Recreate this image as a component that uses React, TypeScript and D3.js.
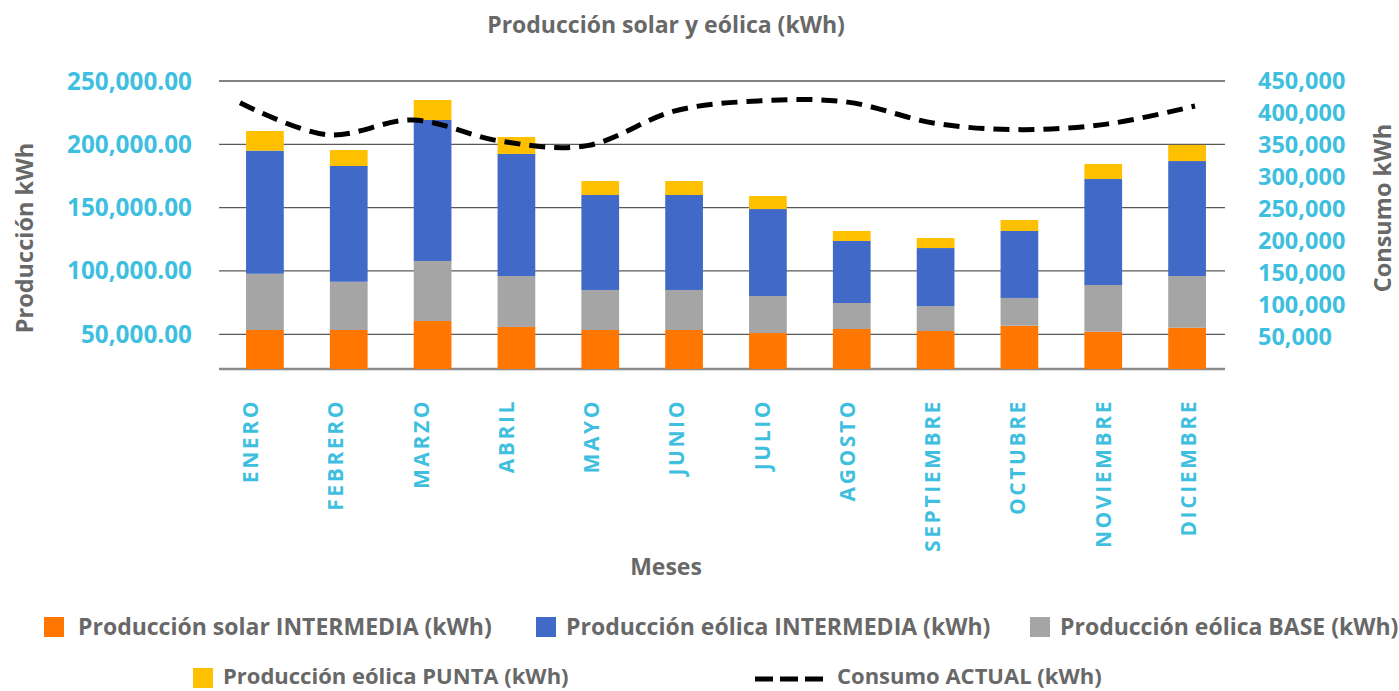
import React from "react";
import * as d3 from "d3";

const months = ["ENERO", "FEBRERO", "MARZO", "ABRIL", "MAYO", "JUNIO", "JULIO", "AGOSTO", "SEPTIEMBRE", "OCTUBRE", "NOVIEMBRE", "DICIEMBRE"];
const solarIntermedia = [53400, 53400, 60500, 55800, 53400, 53400, 51000, 54200, 52600, 56800, 52100, 55200];
const eolicaBase = [44400, 38100, 47400, 40200, 31600, 31600, 29200, 20500, 19700, 21900, 36800, 40800];
const eolicaIntermedia = [97200, 91400, 111300, 96400, 75000, 75000, 68700, 49000, 45800, 52900, 83700, 90800];
const eolicaPunta = [15500, 12600, 15800, 13400, 11000, 11000, 10300, 7900, 7900, 8600, 11900, 12700];
const consumoActual = [416000, 366000, 389000, 356000, 349000, 403000, 419000, 417000, 384000, 374000, 383000, 411000];
const leftTicks = [50000, 100000, 150000, 200000, 250000];
const rightTicks = [50000, 100000, 150000, 200000, 250000, 300000, 350000, 400000, 450000];

const COLORS: Record<string, string> = {
  solar: "#FF7700",
  intermedia: "#416AC8",
  base: "#A5A5A5",
  punta: "#FFC000",
};
const LABEL_BLUE = "#3FBFE0";
const GRAY_TEXT = "#686868";
const FONT = "'Open Sans', sans-serif";

export default function App() {
  const W = 1399, H = 691;
  const plotL = 219, plotR = 1225, plotT = 81, plotB = 369;

  const xBar = d3.scaleBand<string>().domain(months).range([223, 1229]).paddingInner(0.55).paddingOuter(0.275);
  const xLine = d3.scalePoint<string>().domain(months).range([240, 1195]);
  const xLabel = d3.scalePoint<string>().domain(months).range([258, 1196]);
  const yL = d3.scaleLinear().domain([22600, 250000]).range([plotB, plotT]).clamp(true);
  const yR = d3.scaleLinear().domain([0, 450000]).range([plotB, plotT]);

  const rows = months.map((m, i) => ({
    month: m,
    solar: solarIntermedia[i],
    base: eolicaBase[i],
    intermedia: eolicaIntermedia[i],
    punta: eolicaPunta[i],
  }));
  const keys = ["solar", "base", "intermedia", "punta"];
  const stacked = d3.stack<any>().keys(keys)(rows);

  const line = d3
    .line<number>()
    .x((_, i) => xLine(months[i]) as number)
    .y((d) => yR(d))
    .curve(d3.curveCatmullRom.alpha(0));

  const fmtL = d3.format(",.2f");
  const fmtR = d3.format(",");

  const legendRow1 = [
    { key: "solar", label: "Producción solar INTERMEDIA (kWh)", x: 44, tx: 78 },
    { key: "intermedia", label: "Producción eólica INTERMEDIA (kWh)", x: 536, tx: 566 },
    { key: "base", label: "Producción eólica BASE (kWh)", x: 1030, tx: 1060 },
  ];

  return (
    <svg width={W} height={H} style={{ position: "absolute", left: 0, top: 0, background: "#fff" }} fontFamily={FONT}>
      <text x={666} y={33} textAnchor="middle" fontSize={23} fontWeight={700} fill={GRAY_TEXT}>
        Producción solar y eólica (kWh)
      </text>

      {leftTicks.map((t) => (
        <line key={"g" + t} x1={plotL} x2={plotR} y1={yL(t)} y2={yL(t)} stroke="#5a5a5a" strokeWidth={1.3} />
      ))}
      <line x1={plotL} x2={plotR} y1={plotB} y2={plotB} stroke="#8a8a8a" strokeWidth={2.5} />

      {leftTicks.map((t) => (
        <text key={"l" + t} x={192} y={yL(t)} dy="0.35em" textAnchor="end" fontSize={24.3} fontWeight={700} fill={LABEL_BLUE}>
          {fmtL(t)}
        </text>
      ))}
      {rightTicks.map((t) => (
        <text key={"r" + t} x={1258} y={yR(t)} dy="0.35em" textAnchor="start" fontSize={23.5} fontWeight={700} fill={LABEL_BLUE}>
          {fmtR(t)}
        </text>
      ))}

      {stacked.map((s) => (
        <g key={s.key} fill={COLORS[s.key]}>
          {s.map((d, i) => (
            <rect
              key={i}
              x={xBar(months[i])}
              width={xBar.bandwidth()}
              y={yL(d[1])}
              height={Math.max(0, yL(d[0]) - yL(d[1]))}
            />
          ))}
        </g>
      ))}

      <path d={line(consumoActual) || ""} fill="none" stroke="#000" strokeWidth={5} strokeDasharray="16 9" />

      {months.map((m) => (
        <text
          key={m}
          transform={`translate(${xLabel(m)},399) rotate(-90)`}
          textAnchor="end"
          fontSize={21}
          fontWeight={700}
          letterSpacing={2.6}
          fill={LABEL_BLUE}
        >
          {m}
        </text>
      ))}

      <text x={666} y={575} textAnchor="middle" fontSize={23} fontWeight={700} fill={GRAY_TEXT}>
        Meses
      </text>
      <text transform="translate(33,238) rotate(-90)" textAnchor="middle" fontSize={23.5} fontWeight={700} fill={GRAY_TEXT}>
        Producción kWh
      </text>
      <text transform="translate(1391,208) rotate(-90)" textAnchor="middle" fontSize={23.5} fontWeight={700} fill={GRAY_TEXT}>
        Consumo kWh
      </text>

      {legendRow1.map((l) => (
        <g key={l.key}>
          <rect x={l.x} y={617} width={20} height={20} fill={COLORS[l.key]} />
          <text x={l.tx} y={627} dy="0.35em" fontSize={23} fontWeight={700} fill={GRAY_TEXT}>
            {l.label}
          </text>
        </g>
      ))}
      <rect x={193} y={668} width={20} height={20} fill={COLORS.punta} />
      <text x={223} y={676} dy="0.35em" fontSize={22} fontWeight={700} fill={GRAY_TEXT}>
        Producción eólica PUNTA (kWh)
      </text>
      <line x1={755} x2={823} y1={679} y2={679} stroke="#000" strokeWidth={5} strokeDasharray="18 7" />
      <text x={837} y={676} dy="0.35em" fontSize={22} fontWeight={700} fill={GRAY_TEXT}>
        Consumo ACTUAL (kWh)
      </text>
    </svg>
  );
}
